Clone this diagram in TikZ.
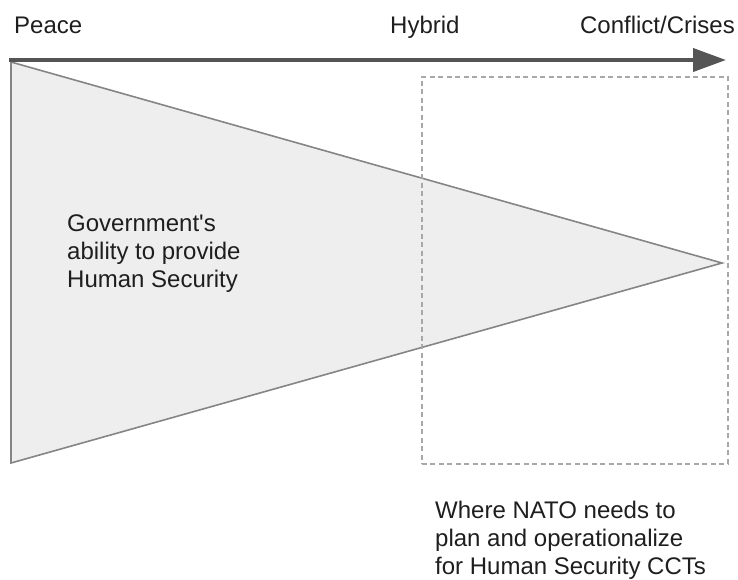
\documentclass[tikz,border=0pt]{standalone}
\usepackage{fontspec}
\setmainfont{Liberation Sans}
\usetikzlibrary{arrows.meta}
\definecolor{axisgray}{HTML}{555555}
\definecolor{wedgefill}{HTML}{EEEEEE}
\definecolor{wedgeline}{HTML}{858585}
\definecolor{boxline}{HTML}{A8A8A8}
\definecolor{textgray}{HTML}{1E1E1E}
\begin{document}
\begin{tikzpicture}[x=1pt,y=-1pt,
  label/.style={inner sep=0pt, text=textgray, font=\fontsize{24}{28}\selectfont},
  para/.style={label, align=left, anchor=north west},
  axis/.style={draw=axisgray, line width=4pt, -{Triangle[length=33pt,width=23pt]}},
  wedge/.style={draw=wedgeline, fill=wedgefill, line width=1.6pt, line join=miter},
  zone/.style={draw=boxline, line width=1.6pt, dash pattern=on 5pt off 3.5pt}]
\useasboundingbox (0,0) rectangle (738,579);
% wedge: government capacity shrinking towards conflict
\coordinate (wtop) at (11,62);
\coordinate (wbot) at (11,463);
\coordinate (wtip) at (722,263);
\path[wedge] (wtop) -- (wtip) -- (wbot) -- cycle;
% dashed zone of NATO engagement, drawn over the wedge
\node[zone, minimum width=306pt, minimum height=387pt, inner sep=0pt, anchor=north west] (zonebox) at (421,76) {};
% spectrum axis
\coordinate (astart) at (9,60);
\coordinate (aend) at (726,60);
\draw[axis] (astart) -- (aend);
% axis labels
\node[label, anchor=base west] (peace) at (14,33) {Peace};
\node[label, anchor=base west] (hybrid) at (390,33) {Hybrid};
\node[label, anchor=base east] (conflict) at (735,33) {Conflict/Crises};
% descriptions
\node[para] (gov) at (67,214.5) {Government\textquotesingle s\\ability to provide\\Human Security};
\node[para] (nato) at (435,500.5) {Where NATO needs to\\plan and operationalize\\for Human Security CCTs};
\end{tikzpicture}
\end{document}
